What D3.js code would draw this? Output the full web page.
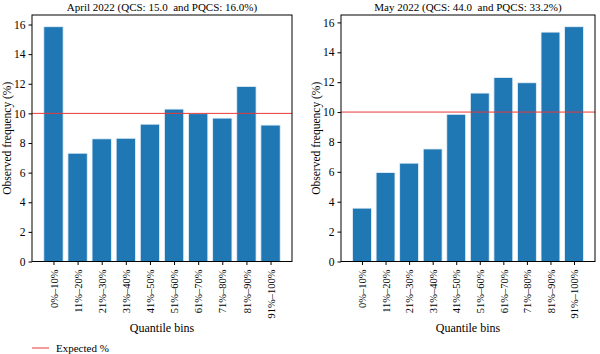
<!DOCTYPE html>
<html>
<head>
<meta charset="utf-8">
<script src="https://cdn.jsdelivr.net/npm/d3@7"></script>
<style>
  body { margin: 0; background: #fff; }
  svg { display: block; font-family: "Liberation Serif", "DejaVu Serif", serif; }
  .title { white-space: pre; }
</style>
</head>
<body>
<script>
const bins = ['0%–10%', '11%–20%', '21%–30%', '31%–40%', '41%–50%',
              '51%–60%', '61%–70%', '71%–80%', '81%–90%', '91%–100%'];
const aprilValues = [15.85, 7.31, 8.28, 8.32, 9.27, 10.29, 9.98, 9.68, 11.82, 9.21];
const mayValues = [3.57, 5.95, 6.58, 7.53, 9.85, 11.27, 12.31, 11.96, 15.35, 15.71];
const yTicks = [0, 2, 4, 6, 8, 10, 12, 14, 16];
const expected = 10;
const titles = ['April 2022 (QCS: 15.0  and PQCS: 16.0%)', 'May 2022 (QCS: 44.0  and PQCS: 33.2%)'];

const width = 600, height = 354;
const svg = d3.select('body').append('svg')
    .attr('width', width)
    .attr('height', height);

const panels = [
    { values: aprilValues, title: titles[0], x0: 32, x1: 292 },
    { values: mayValues, title: titles[1], x0: 341, x1: 595 }
];
const plotTop = 15, plotBottom = 261.5;

panels.forEach(p => {
    // matplotlib-style limits: bars at 0..n-1, width 0.8, 5% margins
    const n = p.values.length;
    const lo = -0.4, hi = n - 1 + 0.4, pad = (hi - lo) * 0.05;
    const x = d3.scaleLinear().domain([lo - pad, hi + pad]).range([p.x0, p.x1]);
    const y = d3.scaleLinear().domain([0, d3.max(p.values) * 1.05]).range([plotBottom, plotTop]);

    const g = svg.append('g');

    g.selectAll('rect')
        .data(p.values)
        .enter().append('rect')
        .attr('x', (d, i) => x(i - 0.4))
        .attr('width', x(0.8) - x(0))
        .attr('y', d => y(d))
        .attr('height', d => y(0) - y(d))
        .attr('fill', '#1f77b4')
        .attr('stroke', '#e8f0f8')
        .attr('stroke-width', 0.8);

    g.append('line')
        .attr('x1', p.x0).attr('x2', p.x1)
        .attr('y1', y(expected)).attr('y2', y(expected))
        .attr('stroke', '#e8393a')
        .attr('stroke-width', 1);

    // frame
    g.append('rect')
        .attr('x', p.x0).attr('y', plotTop)
        .attr('width', p.x1 - p.x0).attr('height', plotBottom - plotTop)
        .attr('fill', 'none')
        .attr('stroke', '#000')
        .attr('stroke-width', 1);

    const yAxis = g.append('g')
        .attr('transform', `translate(${p.x0},0)`)
        .call(d3.axisLeft(y).tickValues(yTicks).tickSize(3.5).tickPadding(3));
    yAxis.attr('font-family', null).attr('font-size', 11.5);
    yAxis.select('.domain').remove();
    yAxis.selectAll('text').attr('fill', '#000');

    const xAxis = g.append('g')
        .attr('transform', `translate(0,${plotBottom})`)
        .call(d3.axisBottom(x).tickValues(d3.range(n)).tickFormat(i => bins[i]).tickSize(3.5));
    xAxis.attr('font-family', null).attr('font-size', 10.5);
    xAxis.select('.domain').remove();
    xAxis.selectAll('text')
        .attr('fill', '#000')
        .attr('text-anchor', 'end')
        .attr('transform', 'rotate(-90)')
        .attr('x', -8)
        .attr('y', 0)
        .attr('dy', '0.35em');

    g.append('text')
        .attr('class', 'title')
        .attr('x', (p.x0 + p.x1) / 2)
        .attr('y', 11)
        .attr('text-anchor', 'middle')
        .attr('font-size', 11)
        .text(p.title);

    g.append('text')
        .attr('x', (p.x0 + p.x1) / 2)
        .attr('y', 332)
        .attr('text-anchor', 'middle')
        .attr('font-size', 12)
        .text('Quantile bins');

    g.append('text')
        .attr('transform', `translate(${p.x0 - 21},${(plotTop + plotBottom) / 2}) rotate(-90)`)
        .attr('text-anchor', 'middle')
        .attr('font-size', 11.5)
        .text('Observed frequency (%)');
});

// legend
const legend = svg.append('g').attr('transform', 'translate(32,348)');
legend.append('line')
    .attr('x1', 0).attr('x2', 17)
    .attr('stroke', '#e8393a')
    .attr('stroke-width', 1);
legend.append('text')
    .attr('x', 24)
    .attr('dy', '0.35em')
    .attr('font-size', 11)
    .text('Expected %');
</script>
</body>
</html>
